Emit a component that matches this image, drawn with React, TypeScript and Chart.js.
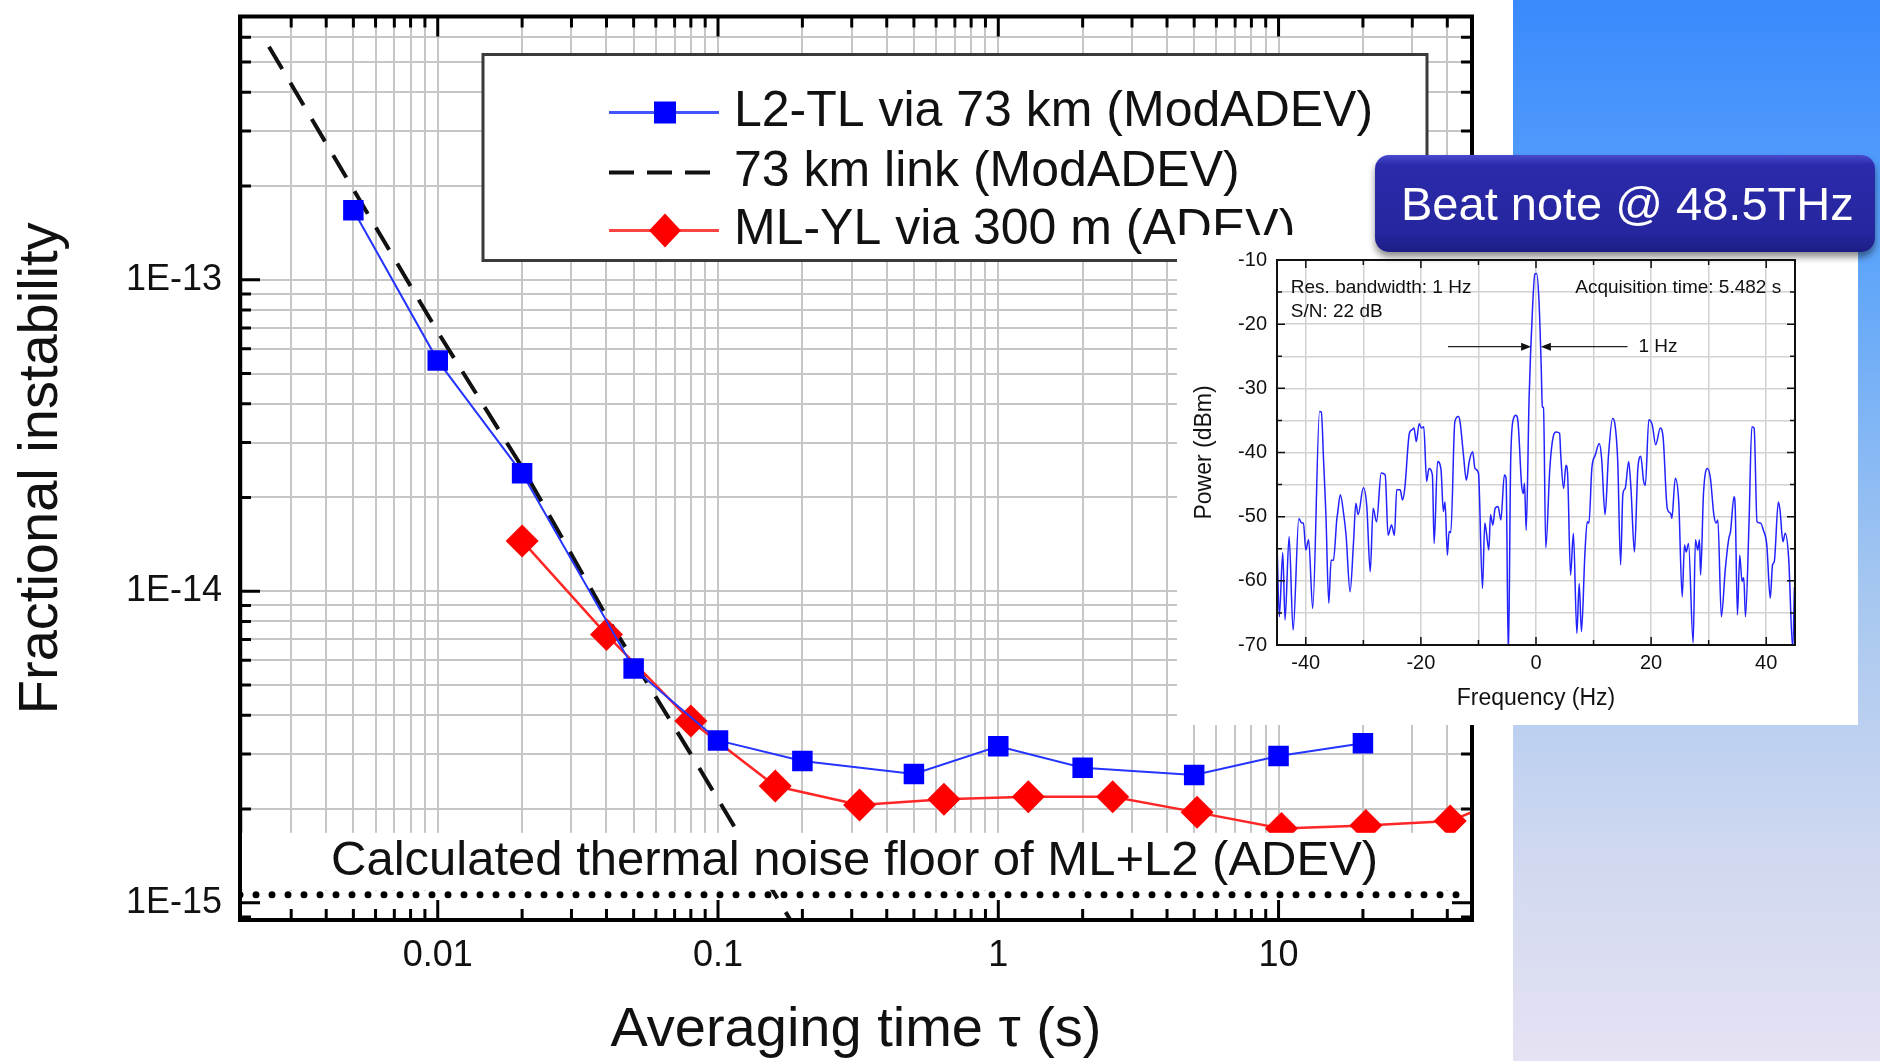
import React, { useEffect, useRef } from "react";
import { Chart, registerables } from "chart.js";
Chart.register(...registerables);

const FONT = "'Liberation Sans', Arial, Helvetica, sans-serif";
Chart.defaults.font.family = FONT;

// ---------- main chart data ----------
const seriesLabels = ["L2-TL via 73 km (ModADEV)", "73 km link (ModADEV)", "ML-YL via 300 m (ADEV)"];
const blueTau = [0.005, 0.01, 0.02, 0.05, 0.1, 0.2, 0.5, 1, 2, 5, 10, 20];
const blueVal = [1.67e-13, 5.5e-14, 2.39e-14, 5.65e-15, 3.32e-15, 2.85e-15, 2.59e-15, 3.18e-15, 2.71e-15, 2.57e-15, 2.96e-15, 3.25e-15];
const linkTau = [0.0025, 0.005, 0.01, 0.02, 0.04, 0.08, 0.16, 0.2];
const linkVal = [5.6e-13, 1.95e-13, 6.8e-14, 2.5e-14, 8.3e-15, 3.0e-15, 1.06e-15, 7.6e-16];
const redTau = [0.02, 0.04, 0.08, 0.16, 0.32, 0.64, 1.28, 2.56, 5.12, 10.24, 20.48, 40.96, 81.92];
const redVal = [1.45e-14, 7.26e-15, 3.83e-15, 2.37e-15, 2.06e-15, 2.15e-15, 2.19e-15, 2.19e-15, 1.95e-15, 1.73e-15, 1.77e-15, 1.83e-15, 2.35e-15];
const floorLabel = "Calculated thermal noise floor of ML+L2 (ADEV)";
const floorVal = 1.06e-15;

const xTitle = "Averaging time \u03c4 (s)";
const yTitle = "Fractional instability";
const xTickValues = [0.01, 0.1, 1, 10];
const xTickLabels = ["0.01", "0.1", "1", "10"];
const yTickValues = [1e-15, 1e-14, 1e-13];
const yTickLabels = ["1E-15", "1E-14", "1E-13"];
const X_MIN = 0.00197;
const X_MAX = 49;
const Y_MIN = 8.8e-16;
const Y_MAX = 7e-13;

// ---------- inset (beat note spectrum) data ----------
const insetTitle = "Beat note @ 48.5THz";
const specF = [
  -45.0, -44.6, -44.0, -43.6, -42.9, -42.2, -41.2, -40.7, -40.4, -40.0, -39.5, -38.8, -37.6, -37.3, -36.9, -36.5, -36.0, -35.6, -35.2, -34.6,
  -34.5, -34.0, -33.4, -33.0, -32.3, -31.7, -31.3, -30.9, -30.0, -29.4, -28.8, -28.3, -27.7, -26.9, -26.2, -25.7, -25.1, -24.6, -24.2, -23.6,
  -23.2, -22.8, -22.0, -21.6, -21.2, -20.8, -20.3, -19.9, -19.5, -19.0, -18.6, -18.0, -17.7, -17.1, -16.5, -16.1, -15.8, -15.4, -15.1, -14.8,
  -14.1, -13.5, -13.2, -12.6, -12.1, -11.6, -11.0, -10.6, -10.0, -9.3, -8.9, -8.6, -8.2, -7.9, -7.5, -7.1, -6.6, -6.1, -5.5, -5.2,
  -4.8, -4.4, -3.9, -3.5, -3.1, -2.5, -2.2, -2.0, -1.7, -1.2, -0.6, -0.2, 0.1, 0.5, 0.9, 1.1, 1.3, 1.7, 2.4, 3.0,
  3.5, 4.1, 4.3, 4.8, 5.2, 5.5, 6.0, 6.5, 7.1, 7.5, 7.9, 8.5, 8.9, 9.2, 9.7, 10.3, 11.0, 11.4, 12.0, 12.6,
  13.3, 13.7, 14.2, 14.7, 15.1, 15.5, 16.1, 16.5, 17.1, 17.7, 18.2, 18.7, 19.0, 19.6, 20.2, 20.8, 21.6, 22.1, 22.8, 23.4,
  23.6, 24.2, 24.8, 25.4, 25.8, 26.1, 26.5, 27.3, 27.7, 28.1, 28.4, 28.6, 29.1, 29.8, 30.3, 30.9, 31.3, 31.6, 32.2, 32.9,
  33.5, 33.8, 34.4, 34.6, 35.0, 35.4, 35.8, 36.1, 36.4, 37.0, 37.5, 37.9, 38.4, 39.0, 39.5, 40.1, 40.7, 41.1, 41.4, 42.1,
  42.4, 42.9, 43.3, 43.9, 44.6, 44.9,
];
const specDb = [
  -53.9, -65.6, -55.6, -66.1, -53.1, -67.7, -50.3, -51.0, -51.0, -55.2, -53.6, -64.3, -33.6, -33.7, -41.4, -49.7, -63.5, -56.8, -56.8, -50.3,
  -49.7, -46.6, -49.7, -52.9, -61.7, -53.9, -47.9, -49.7, -45.5, -48.4, -58.6, -48.7, -50.8, -43.2, -43.5, -52.9, -51.3, -52.9, -45.8, -45.8,
  -47.4, -45.6, -37.0, -36.5, -36.2, -38.3, -35.5, -36.2, -36.0, -44.5, -42.5, -43.5, -54.2, -41.4, -42.7, -49.2, -47.7, -56.0, -52.3, -52.5,
  -35.2, -34.4, -35.2, -40.4, -44.3, -41.4, -39.9, -42.5, -43.2, -61.2, -51.0, -52.6, -55.2, -49.7, -51.3, -48.7, -48.4, -50.5, -43.5, -44.0,
  -72.0, -41.4, -34.7, -34.2, -35.5, -45.1, -46.4, -44.8, -52.1, -31.6, -17.5, -12.2, -12.1, -16.0, -26.4, -32.9, -33.0, -54.9, -42.5, -37.5,
  -36.8, -37.0, -40.4, -45.6, -42.0, -43.5, -59.1, -52.6, -68.2, -60.4, -67.9, -55.7, -50.8, -51.0, -42.5, -40.4, -38.6, -40.9, -49.7, -40.4,
  -34.7, -35.5, -41.4, -57.5, -46.4, -45.6, -41.4, -45.6, -55.5, -42.5, -40.6, -44.5, -45.1, -34.9, -35.7, -38.8, -36.2, -37.8, -48.7, -49.5,
  -50.3, -44.0, -47.7, -62.5, -54.4, -55.5, -54.2, -69.7, -53.6, -55.2, -53.6, -59.1, -46.4, -42.5, -44.0, -49.7, -51.0, -50.5, -65.6, -58.1,
  -53.4, -52.3, -46.9, -48.2, -65.3, -56.0, -60.1, -59.5, -65.6, -51.3, -36.0, -36.2, -50.8, -51.0, -52.1, -54.4, -62.7, -57.5, -57.0, -47.7,
  -49.0, -53.9, -52.6, -56.5, -70.5, -61.0,
];
const specXTitle = "Frequency (Hz)";
const specYTitle = "Power (dBm)";
const specXGrid = [-40, -30, -20, -10, 0, 10, 20, 30, 40];
const specXTickValues = [-40, -20, 0, 20, 40];
const specYGrid = [-70, -65, -60, -55, -50, -45, -40, -35, -30, -25, -20, -15, -10];
const specYTickValues = [-70, -60, -50, -40, -30, -20, -10];
const specNotes = [
  { text: "Res. bandwidth: 1 Hz", f: -42.6, db: -14.4, align: "left" },
  { text: "S/N: 22 dB", f: -42.6, db: -18.1, align: "left" },
  { text: "Acquisition time: 5.482 s", f: 42.6, db: -14.4, align: "right" },
  { text: "1 Hz", f: 17.8, db: -23.5, align: "left" },
];
const fwhmArrowDb = -23.5;
const fwhmArrows = [
  [-15.3, -0.85],
  [15.9, 0.85],
];

// ---------- helpers ----------
function logTicks(min: number, max: number) {
  const out: number[] = [];
  for (let e = Math.floor(Math.log10(min)); e <= Math.ceil(Math.log10(max)); e++) {
    for (let m = 1; m <= 9; m++) {
      const v = +(m * Math.pow(10, e)).toPrecision(6);
      if (v >= min * 0.9999 && v <= max * 1.0001) out.push(v);
    }
  }
  return out;
}
function findLog(v: number, arr: number[]) {
  return arr.findIndex((t) => Math.abs(Math.log10(v) - Math.log10(t)) < 1e-6);
}
function findLin(v: number, arr: number[]) {
  return arr.findIndex((t) => Math.abs(v - t) < 1e-9);
}
function zeroPad(s: any) {
  s.paddingTop = 0;
  s.paddingBottom = 0;
  s.paddingLeft = 0;
  s.paddingRight = 0;
}

const mainPlugin = {
  id: "mainDecor",
  beforeDatasetsDraw(chart: any) {
    const { ctx, chartArea: a, scales } = chart;
    const yF = scales.y.getPixelForValue(floorVal);
    ctx.save();
    ctx.fillStyle = "#ffffff";
    ctx.fillRect(a.left, yF - 4, a.right - a.left, a.bottom - yF + 4);
    ctx.restore();
  },
  afterDatasetsDraw(chart: any) {
    const { ctx, chartArea: a, scales } = chart;
    const yF = scales.y.getPixelForValue(floorVal);
    ctx.save();
    ctx.fillStyle = "#ffffff";
    ctx.fillRect(a.left, yF - 62, a.right - a.left, 57);
    ctx.fillStyle = "#111";
    ctx.font = `49px ${FONT}`;
    ctx.textBaseline = "middle";
    ctx.textAlign = "left";
    ctx.fillText(floorLabel, a.left + 91, yF - 33);
    ctx.restore();
  },
  afterDraw(chart: any) {
    const { ctx, chartArea: a, scales } = chart;
    const x = scales.x;
    const y = scales.y;
    ctx.save();
    ctx.strokeStyle = "#000";
    ctx.lineWidth = 3;
    x.ticks.forEach((t: any) => {
      const px = x.getPixelForValue(t.value);
      if (px < a.left + 2 || px > a.right - 2) return;
      const len = findLog(t.value, xTickValues) >= 0 ? 20 : 11;
      ctx.beginPath();
      ctx.moveTo(px, a.bottom);
      ctx.lineTo(px, a.bottom - len);
      ctx.moveTo(px, a.top);
      ctx.lineTo(px, a.top + len);
      ctx.stroke();
    });
    y.ticks.forEach((t: any) => {
      const py = y.getPixelForValue(t.value);
      if (py < a.top + 2 || py > a.bottom - 2) return;
      const len = findLog(t.value, yTickValues) >= 0 ? 20 : 11;
      ctx.beginPath();
      ctx.moveTo(a.left, py);
      ctx.lineTo(a.left + len, py);
      ctx.moveTo(a.right, py);
      ctx.lineTo(a.right - len, py);
      ctx.stroke();
    });
    ctx.lineWidth = 4;
    ctx.strokeRect(a.left, a.top, a.right - a.left, a.bottom - a.top);

    // legend box
    const lx = a.left + 243;
    const ly = a.top + 38;
    ctx.fillStyle = "#ffffff";
    ctx.fillRect(lx, ly, 944, 206);
    ctx.strokeStyle = "#3a3a3a";
    ctx.lineWidth = 3;
    ctx.strokeRect(lx, ly, 944, 206);
    const rows = [ly + 58, ly + 118, ly + 176];
    const s0 = lx + 126;
    const s1 = lx + 236;
    const sc = lx + 182;
    // row 1 (blue squares)
    ctx.strokeStyle = "#4455ff";
    ctx.lineWidth = 3;
    ctx.beginPath();
    ctx.moveTo(s0, rows[0]);
    ctx.lineTo(s1, rows[0]);
    ctx.stroke();
    ctx.fillStyle = "#0000ff";
    ctx.fillRect(sc - 11, rows[0] - 11, 22, 22);
    // row 2 (dashed)
    ctx.strokeStyle = "#111";
    ctx.lineWidth = 4;
    ctx.setLineDash([25, 13]);
    ctx.beginPath();
    ctx.moveTo(s0, rows[1]);
    ctx.lineTo(s1 - 8, rows[1]);
    ctx.stroke();
    ctx.setLineDash([]);
    // row 3 (red diamond)
    ctx.strokeStyle = "#ff4444";
    ctx.lineWidth = 3;
    ctx.beginPath();
    ctx.moveTo(s0, rows[2]);
    ctx.lineTo(s1, rows[2]);
    ctx.stroke();
    ctx.fillStyle = "#ff0000";
    ctx.beginPath();
    ctx.moveTo(sc, rows[2] - 17);
    ctx.lineTo(sc + 16, rows[2]);
    ctx.lineTo(sc, rows[2] + 17);
    ctx.lineTo(sc - 16, rows[2]);
    ctx.closePath();
    ctx.fill();
    ctx.fillStyle = "#111";
    ctx.font = `50px ${FONT}`;
    ctx.textBaseline = "middle";
    ctx.textAlign = "left";
    seriesLabels.forEach((lab, i) => ctx.fillText(lab, lx + 251, rows[i]));
    ctx.restore();
  },
};

const insetPlugin = {
  id: "insetDecor",
  afterDraw(chart: any) {
    const { ctx, chartArea: a, scales } = chart;
    const x = scales.x;
    const y = scales.y;
    ctx.save();
    ctx.strokeStyle = "#111";
    ctx.lineWidth = 1.5;
    x.ticks.forEach((t: any) => {
      const px = x.getPixelForValue(t.value);
      const len = findLin(t.value, specXTickValues) >= 0 ? 8 : 5;
      ctx.beginPath();
      ctx.moveTo(px, a.bottom);
      ctx.lineTo(px, a.bottom - len);
      ctx.moveTo(px, a.top);
      ctx.lineTo(px, a.top + len);
      ctx.stroke();
    });
    y.ticks.forEach((t: any) => {
      const py = y.getPixelForValue(t.value);
      const len = findLin(t.value, specYTickValues) >= 0 ? 8 : 5;
      ctx.beginPath();
      ctx.moveTo(a.left, py);
      ctx.lineTo(a.left + len, py);
      ctx.moveTo(a.right, py);
      ctx.lineTo(a.right - len, py);
      ctx.stroke();
    });
    ctx.lineWidth = 2;
    ctx.strokeRect(a.left, a.top, a.right - a.left, a.bottom - a.top);

    ctx.fillStyle = "#111";
    ctx.font = `19px ${FONT}`;
    ctx.textBaseline = "middle";
    specNotes.forEach((n) => {
      ctx.textAlign = n.align as CanvasTextAlign;
      ctx.fillText(n.text, x.getPixelForValue(n.f), y.getPixelForValue(n.db));
    });
    const ay = y.getPixelForValue(fwhmArrowDb);
    ctx.strokeStyle = "#222";
    ctx.lineWidth = 1.3;
    fwhmArrows.forEach(([from, to]) => {
      const p0 = x.getPixelForValue(from);
      const p1 = x.getPixelForValue(to);
      const dir = p1 > p0 ? 1 : -1;
      ctx.beginPath();
      ctx.moveTo(p0, ay);
      ctx.lineTo(p1 - dir * 6, ay);
      ctx.stroke();
      ctx.beginPath();
      ctx.moveTo(p1, ay);
      ctx.lineTo(p1 - dir * 10, ay - 4);
      ctx.lineTo(p1 - dir * 10, ay + 4);
      ctx.closePath();
      ctx.fillStyle = "#111";
      ctx.fill();
    });
    ctx.restore();
  },
};

const xAllTicks = logTicks(X_MIN, X_MAX);
const yAllTicks = logTicks(Y_MIN, Y_MAX);

function MainChart() {
  const ref = useRef<HTMLCanvasElement | null>(null);
  useEffect(() => {
    if (!ref.current) return;
    const toPts = (xs: number[], ys: number[]) => xs.map((v, i) => ({ x: v, y: ys[i] }));
    const chart = new Chart(ref.current, {
      type: "line",
      data: {
        datasets: [
          {
            label: seriesLabels[0],
            data: toPts(blueTau, blueVal),
            borderColor: "#2535ff",
            backgroundColor: "#0000ff",
            borderWidth: 2,
            pointStyle: "rect",
            pointRadius: 14.5,
            pointBorderWidth: 0,
            pointBackgroundColor: "#0000ff",
          },
          {
            label: seriesLabels[2],
            data: toPts(redTau, redVal),
            borderColor: "#ff2626",
            backgroundColor: "#ff0000",
            borderWidth: 2.5,
            pointStyle: "rectRot",
            pointRadius: 16.5,
            pointBorderWidth: 0,
            pointBackgroundColor: "#ff0000",
          },
          {
            label: seriesLabels[1],
            data: toPts(linkTau, linkVal),
            borderColor: "#111",
            borderWidth: 4,
            borderDash: [26, 16],
            pointRadius: 0,
          },
          {
            label: floorLabel,
            data: [
              { x: X_MIN, y: floorVal },
              { x: X_MAX, y: floorVal },
            ],
            borderColor: "#000",
            borderWidth: 7,
            borderDash: [0, 16],
            borderCapStyle: "round",
            pointRadius: 0,
          },
        ],
      },
      options: {
        animation: false,
        responsive: false,
        maintainAspectRatio: false,
        layout: { padding: { left: 0, top: 14, right: 41, bottom: 0 } },
        plugins: { legend: { display: false }, tooltip: { enabled: false } },
        scales: {
          x: {
            type: "logarithmic",
            position: "bottom",
            min: X_MIN,
            max: X_MAX,
            afterBuildTicks: (s: any) => {
              s.ticks = xAllTicks.map((v) => ({ value: v }));
            },
            afterFit: (s: any) => {
              s.height = 141;
              zeroPad(s);
            },
            ticks: {
              autoSkip: false,
              maxRotation: 0,
              padding: 18,
              color: "#111",
              font: { size: 36, lineHeight: 1 },
              callback: (v: any) => {
                const i = findLog(Number(v), xTickValues);
                return i >= 0 ? xTickLabels[i] : "";
              },
            },
            grid: { color: "#c6c6c6", lineWidth: 2, drawTicks: false },
            border: { display: false },
            title: { display: true, text: xTitle, color: "#111", font: { size: 56, lineHeight: 1 }, padding: { top: 0, bottom: 2 } },
          },
          y: {
            type: "logarithmic",
            position: "left",
            min: Y_MIN,
            max: Y_MAX,
            afterBuildTicks: (s: any) => {
              s.ticks = yAllTicks.map((v) => ({ value: v }));
            },
            afterFit: (s: any) => {
              s.width = 240;
              zeroPad(s);
            },
            ticks: {
              autoSkip: false,
              padding: 18,
              color: "#111",
              font: { size: 36, lineHeight: 1 },
              callback: (v: any) => {
                const i = findLog(Number(v), yTickValues);
                return i >= 0 ? yTickLabels[i] : "";
              },
            },
            grid: { color: "#c6c6c6", lineWidth: 2, drawTicks: false },
            border: { display: false },
            title: { display: true, text: yTitle, color: "#111", font: { size: 56, lineHeight: 1 }, padding: { top: 14, bottom: 0 } },
          },
        },
      },
      plugins: [mainPlugin],
    } as any);
    return () => chart.destroy();
  }, []);
  return <canvas ref={ref} width={1513} height={1061} style={{ position: "absolute", left: 0, top: 0, width: 1513, height: 1061 }} />;
}

function InsetChart() {
  const ref = useRef<HTMLCanvasElement | null>(null);
  useEffect(() => {
    if (!ref.current) return;
    const chart = new Chart(ref.current, {
      type: "line",
      data: {
        datasets: [
          {
            label: insetTitle,
            data: specF.map((f, i) => ({ x: f, y: specDb[i] })),
            borderColor: "#2222ff",
            borderWidth: 1.5,
            pointRadius: 0,
            cubicInterpolationMode: "monotone",
          },
        ],
      },
      options: {
        animation: false,
        responsive: false,
        maintainAspectRatio: false,
        layout: { padding: { left: 0, top: 25, right: 63, bottom: 0 } },
        plugins: { legend: { display: false }, tooltip: { enabled: false } },
        scales: {
          x: {
            type: "linear",
            min: -45,
            max: 45,
            afterBuildTicks: (s: any) => {
              s.ticks = specXGrid.map((v) => ({ value: v }));
            },
            afterFit: (s: any) => {
              s.height = 80;
              zeroPad(s);
            },
            ticks: {
              autoSkip: false,
              maxRotation: 0,
              padding: 8.5,
              color: "#111",
              font: { size: 20, lineHeight: 1 },
              callback: (v: any) => (findLin(Number(v), specXTickValues) >= 0 ? String(v) : ""),
            },
            grid: { color: "#d2d2d2", lineWidth: 1.5, drawTicks: false },
            border: { display: false },
            title: { display: true, text: specXTitle, color: "#111", font: { size: 23, lineHeight: 1 }, padding: { top: 0, bottom: 14.5 } },
          },
          y: {
            type: "linear",
            min: -70,
            max: -10,
            afterBuildTicks: (s: any) => {
              s.ticks = specYGrid.map((v) => ({ value: v }));
            },
            afterFit: (s: any) => {
              s.width = 100;
              zeroPad(s);
            },
            ticks: {
              autoSkip: false,
              padding: 10,
              color: "#111",
              font: { size: 20, lineHeight: 1 },
              callback: (v: any) => (findLin(Number(v), specYTickValues) >= 0 ? String(v) : ""),
            },
            grid: { color: "#d2d2d2", lineWidth: 1.5, drawTicks: false },
            border: { display: false },
            title: { display: true, text: specYTitle, color: "#111", font: { size: 23, lineHeight: 1 }, padding: { top: 16.5, bottom: 0 } },
          },
        },
      },
      plugins: [insetPlugin],
    } as any);
    return () => chart.destroy();
  }, []);
  return <canvas ref={ref} width={681} height={490} style={{ position: "absolute", left: 0, top: 0, width: 681, height: 490 }} />;
}

export default function App() {
  return (
    <div style={{ position: "absolute", left: 0, top: 0, width: 1880, height: 1061, background: "#ffffff", overflow: "hidden", fontFamily: FONT }}>
      <div
        style={{
          position: "absolute",
          left: 1513,
          top: 0,
          width: 367,
          height: 1061,
          background: "linear-gradient(to bottom, #3a8afd 0%, #5ea5fa 25%, #a4c6f0 55%, #cfd8f0 80%, #e5e2f3 100%)",
        }}
      />
      <MainChart />
      <div style={{ position: "absolute", left: 1177, top: 235, width: 681, height: 490, background: "#ffffff" }}>
        <InsetChart />
      </div>
      <div
        style={{
          position: "absolute",
          left: 1375,
          top: 155,
          width: 500,
          height: 97,
          borderRadius: 14,
          background: "linear-gradient(to bottom, #4a4ad0 0%, #2b2bab 10%, #26269f 80%, #1d1d85 100%)",
          boxShadow: "0 5px 7px rgba(0,0,0,0.45)",
          color: "#ffffff",
          fontSize: 47,
          lineHeight: "97px",
          paddingLeft: 26,
          boxSizing: "border-box",
          whiteSpace: "nowrap",
        }}
      >
        {insetTitle}
      </div>
    </div>
  );
}
